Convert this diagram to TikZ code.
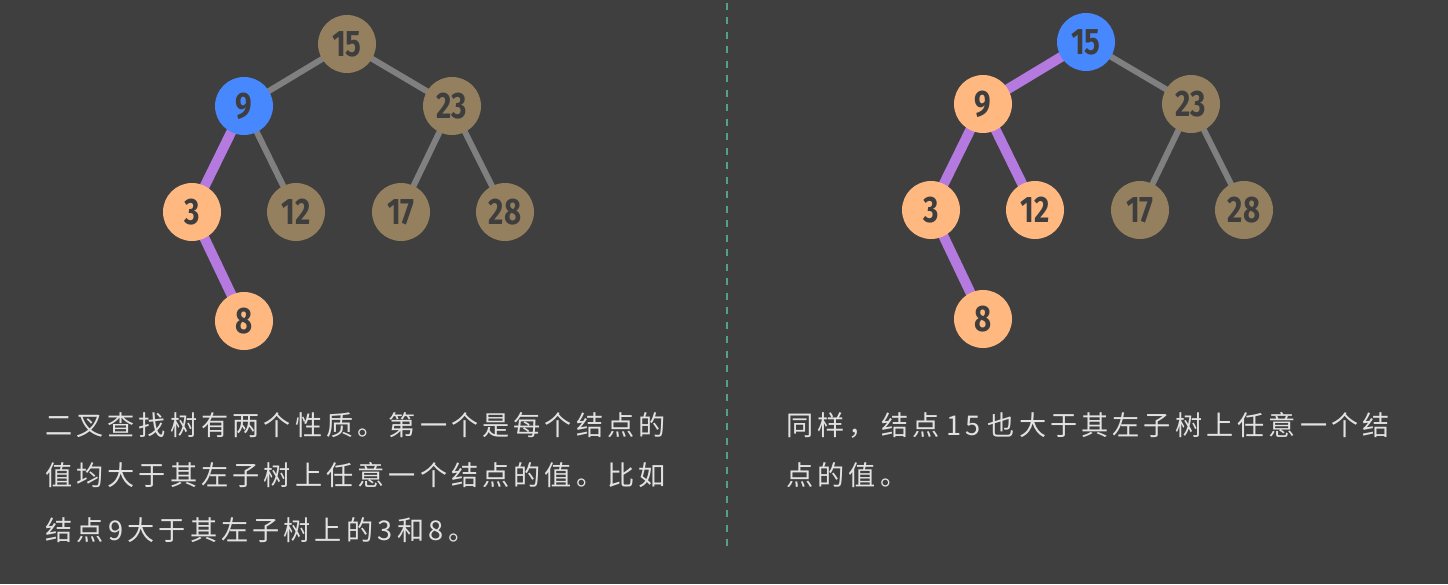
\documentclass[tikz,border=0pt]{standalone}
\usepackage{fontspec}
\newfontfamily\numfont[FakeStretch=0.8]{Fira Sans}
\newfontfamily\cjk[LetterSpace=15]{Noto Sans CJK SC}
\usetikzlibrary{backgrounds}

\definecolor{bgcol}{RGB}{63,63,63}
\definecolor{brownnode}{RGB}{148,128,94}
\definecolor{bluenode}{RGB}{72,136,255}
\definecolor{orangenode}{RGB}{255,184,128}
\definecolor{purpleedge}{RGB}{181,122,224}
\definecolor{grayedge}{RGB}{128,128,128}
\definecolor{digitcol}{RGB}{62,62,62}
\definecolor{textcol}{RGB}{226,226,226}
\definecolor{sepcol}{RGB}{84,160,140}

\newcommand{\gapnum}[1]{\hspace{2.5pt}#1\hspace{2.5pt}}

\tikzset{
  key/.style={circle, fill=brownnode, minimum size=1.16cm, inner sep=0pt,
    text=digitcol, font=\numfont\bfseries\fontsize{21}{24}\selectfont},
  low/.style={key, fill=orangenode},
  cur/.style={key, fill=bluenode},
  plain/.style={draw=grayedge, line width=0.12cm},
  path/.style={draw=purpleedge, line width=0.2cm},
  note/.style={anchor=west, inner sep=0pt, text=textcol, font=\cjk\fontsize{15.45}{18}\selectfont}
}

\begin{document}
\begin{tikzpicture}
        \useasboundingbox (0,0) rectangle (28.96,11.68);

        % left tree: node 9
        \node[key] (L15) at (6.94, 10.80) {15};
        \node[cur] (L9) at (4.88, 9.56) {9};
        \node[key] (L23) at (9.04, 9.56) {23};
        \node[low] (L3) at (3.84, 7.44) {3};
        \node[key] (L12) at (5.92, 7.44) {12};
        \node[key] (L17) at (8.02, 7.44) {17};
        \node[key] (L28) at (10.10, 7.44) {28};
        \node[low] (L8) at (4.88, 5.26) {8};

        % right tree: node 15
        \node[cur] (R15) at (21.72, 10.84) {15};
        \node[low] (R9) at (19.66, 9.60) {9};
        \node[key] (R23) at (23.82, 9.60) {23};
        \node[low] (R3) at (18.62, 7.48) {3};
        \node[low] (R12) at (20.70, 7.48) {12};
        \node[key] (R17) at (22.80, 7.48) {17};
        \node[key] (R28) at (24.88, 7.48) {28};
        \node[low] (R8) at (19.66, 5.30) {8};

        \begin{pgfonlayer}{background}
            \fill[bgcol] (0,0) rectangle (28.96,11.68);
            \foreach \a/\b in {L15/L9, L15/L23, L9/L12, L23/L17, L23/L28, R15/R23, R23/R17, R23/R28} {
                \draw[plain] (\a.center) -- (\b.center);
            }
            \foreach \a/\b in {L9/L3, L3/L8, R15/R9, R9/R3, R9/R12, R3/R8} {
                \draw[path] (\a.center) -- (\b.center);
            }
        \end{pgfonlayer}

        \coordinate (septop) at (14.54, 11.62);
        \coordinate (sepbot) at (14.54, 0.62);
        \draw[sepcol, line width=0.04cm, dash pattern=on 0.14cm off 0.15cm] (septop) -- (sepbot);

        \node[note] (t1) at (0.90, 3.18) {二叉查找树有两个性质。第一个是每个结点的};
        \node[note] (t2) at (0.90, 2.17) {值均大于其左子树上任意一个结点的值。比如};
        \node[note] (t3) at (0.90, 1.08) {结点\gapnum{9}大于其左子树上的\gapnum{3}和\gapnum{8}。};

        \node[note] (u1) at (15.72, 3.18) {同样，\hspace{3pt}结点\hspace{4pt}15\hspace{4pt}也大于其左子树上任意一个结};
        \node[note] (u2) at (15.72, 2.17) {点的值。};
\end{tikzpicture}
\end{document}
